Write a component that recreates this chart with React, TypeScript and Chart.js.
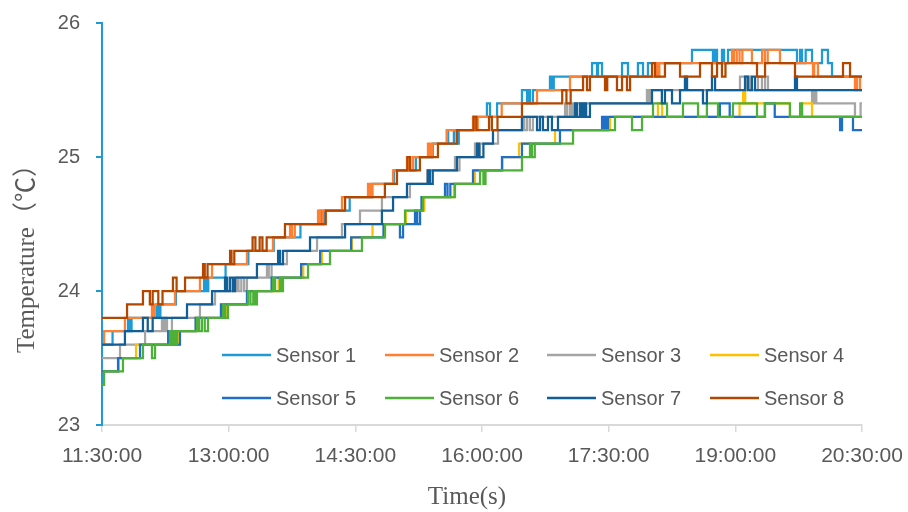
import React, { useEffect, useRef } from 'react';
import { Chart, registerables } from 'chart.js';

Chart.register(...registerables);

// X axis: minutes since 11:30:00, labelled every 90 minutes
const tickLabels = ['11:30:00', '13:00:00', '14:30:00', '16:00:00', '17:30:00', '19:00:00', '20:30:00'];
const tickStep = 90;
const endMinute = 540;
const yTickLabels = ['23', '24', '25', '26'];

const seriesNames = ['Sensor 1', 'Sensor 2', 'Sensor 3', 'Sensor 4', 'Sensor 5', 'Sensor 6', 'Sensor 7', 'Sensor 8'];
const seriesColors = ['#1E9BD7', '#FF8033', '#A5A5A5', '#FFC000', '#1F6FC6', '#4DB038', '#125E97', '#B34700'];

// Each series: minute at which the reading changes, and the new reading (°C)
const s1T = [0, 7.5, 18.5, 20, 21, 39, 40.5, 41.5, 52.5, 72.5, 74, 75.5, 87.8, 104, 122, 141, 155, 156.5, 158, 176, 192, 207.5, 223, 235, 245, 246, 250, 252, 253.5, 264, 273.5, 275.7, 280.7, 298.4, 302, 302.7, 304.1, 306.2, 318.3, 319.7, 321, 348.2, 351.7, 352.4, 355.3, 369.5, 373.7, 380.8, 384.4, 387.9, 419.2, 434.1, 435.6, 437, 440.5, 442, 444.8, 493.8, 496, 497.4, 500, 504.5, 511.6, 515.8, 518.7];
const s1V = [23.6, 23.7, 23.8, 23.7, 23.8, 23.9, 23.8, 23.9, 24.0, 24.1, 24.0, 24.1, 24.2, 24.3, 24.4, 24.5, 24.6, 24.5, 24.6, 24.7, 24.8, 24.9, 25.0, 25.1, 25.2, 25.1, 25.2, 25.1, 25.2, 25.3, 25.4, 25.3, 25.4, 25.5, 25.4, 25.5, 25.4, 25.5, 25.6, 25.5, 25.6, 25.7, 25.6, 25.7, 25.6, 25.7, 25.6, 25.7, 25.6, 25.7, 25.8, 25.7, 25.8, 25.7, 25.8, 25.7, 25.8, 25.7, 25.8, 25.7, 25.8, 25.7, 25.8, 25.7, 25.6];

const s2T = [0, 1.5, 16.3, 35.5, 36.5, 37.5, 51.9, 69.6, 78.2, 103, 121.5, 133.6, 135, 137, 153.5, 155, 157, 170.5, 189, 190.5, 192, 206.8, 216.7, 218, 221, 231.6, 233, 234.5, 245.1, 263.6, 265, 267, 284, 309.1, 332.5, 393, 394.5, 396, 447.6, 449, 451, 453, 455, 461.8, 469, 471, 473, 481.7, 505.2, 506, 508.7, 535, 536.5, 538.6];
const s2V = [23.6, 23.7, 23.8, 23.9, 23.8, 23.9, 24.0, 24.1, 24.2, 24.3, 24.4, 24.5, 24.4, 24.5, 24.6, 24.5, 24.6, 24.7, 24.8, 24.7, 24.8, 24.9, 25.0, 24.9, 25.0, 25.1, 25.0, 25.1, 25.2, 25.3, 25.2, 25.3, 25.4, 25.5, 25.6, 25.7, 25.6, 25.7, 25.8, 25.7, 25.8, 25.7, 25.8, 25.7, 25.8, 25.7, 25.8, 25.7, 25.6, 25.7, 25.6, 25.5, 25.6, 25.5];

const s3T = [0, 12.8, 30.6, 42.6, 44, 45, 46.2, 49.7, 69.6, 80.3, 95.9, 97, 99, 101, 103, 117.2, 118.5, 120.5, 131.4, 152.8, 170.5, 183.3, 198.9, 218.8, 231, 250.8, 252, 254, 265, 266.5, 268.6, 281.4, 298.4, 300, 302, 304, 306.2, 329, 330.5, 332.5, 333.9, 334.7, 387.2, 388.5, 390, 453.3, 456.9, 458, 460.4, 466.1, 468.9, 471.1, 473.2, 504.5, 506, 507.5, 535, 539];
const s3V = [23.5, 23.6, 23.7, 23.8, 23.7, 23.8, 23.7, 23.8, 23.9, 24.0, 24.1, 24.0, 24.1, 24.0, 24.1, 24.2, 24.1, 24.2, 24.3, 24.4, 24.5, 24.6, 24.7, 24.8, 24.9, 25.0, 24.9, 25.0, 25.1, 25.0, 25.1, 25.2, 25.3, 25.2, 25.3, 25.2, 25.3, 25.4, 25.3, 25.4, 25.3, 25.4, 25.5, 25.4, 25.5, 25.6, 25.5, 25.6, 25.5, 25.6, 25.5, 25.6, 25.5, 25.4, 25.5, 25.4, 25.3, 25.4];

const s4T = [0, 12, 24.2, 49.3, 50.5, 54.5, 66.8, 88.5, 104, 125.5, 143, 156.3, 177.6, 192.2, 216, 229, 250, 265, 284.5, 296.3, 321.9, 361, 395, 398, 453, 455.5, 457, 488.8, 497.4, 504.5];
const s4V = [23.4, 23.5, 23.6, 23.7, 23.6, 23.7, 23.8, 23.9, 24.0, 24.1, 24.2, 24.3, 24.4, 24.5, 24.6, 24.7, 24.8, 24.9, 25.0, 25.1, 25.2, 25.3, 25.4, 25.3, 25.4, 25.5, 25.4, 25.3, 25.4, 25.3];

const s5T = [0, 11.4, 27, 47, 49, 55.4, 66.5, 84.5, 103, 120.5, 141.5, 155, 177, 200, 211.7, 213.9, 222.4, 224, 226, 227, 243.7, 245.5, 247.5, 263.6, 284.2, 298.4, 325.4, 355.3, 356.5, 358, 359, 359.5, 439, 446, 471, 478, 524.4, 525.8, 533.6];
const s5V = [23.4, 23.5, 23.6, 23.7, 23.6, 23.7, 23.8, 23.9, 24.0, 24.1, 24.2, 24.3, 24.4, 24.5, 24.4, 24.5, 24.6, 24.5, 24.6, 24.7, 24.8, 24.7, 24.8, 24.9, 25.0, 25.1, 25.2, 25.3, 25.2, 25.3, 25.2, 25.3, 25.4, 25.3, 25.4, 25.3, 25.2, 25.3, 25.2];

const s6T = [0, 1.5, 14.9, 29.1, 35.5, 37.7, 48.3, 49.7, 51.2, 52.5, 53.3, 67.5, 69, 71, 73, 75.3, 86, 87.5, 89.5, 103.7, 105.5, 107.5, 109, 110.1, 121.5, 123, 126.5, 127.5, 128.6, 146.4, 162, 184.7, 201.1, 215.3, 228.1, 250.8, 268.6, 271, 272.5, 298.4, 304.1, 305.5, 307.5, 334.7, 364.5, 376.6, 383.7, 391.5, 401.5, 412.8, 423.5, 429.8, 437.7, 448.3, 465.4, 471.1, 488.8, 496, 497.4];
const s6V = [23.3, 23.4, 23.5, 23.6, 23.5, 23.6, 23.7, 23.6, 23.7, 23.6, 23.7, 23.8, 23.7, 23.8, 23.7, 23.8, 23.9, 23.8, 23.9, 24.0, 23.9, 24.0, 23.9, 24.0, 24.1, 24.0, 24.1, 24.0, 24.1, 24.2, 24.3, 24.4, 24.5, 24.6, 24.7, 24.8, 24.9, 24.8, 24.9, 25.0, 25.1, 25.0, 25.1, 25.2, 25.3, 25.2, 25.3, 25.4, 25.3, 25.4, 25.3, 25.4, 25.3, 25.4, 25.3, 25.4, 25.3, 25.4, 25.3];

const s7T = [0, 16.3, 29.1, 32.5, 36, 60.4, 78.2, 87.4, 89, 91, 93, 94.5, 110.1, 125.1, 126.5, 128.6, 147.8, 172.7, 198.9, 206.8, 216.7, 231.6, 233, 235, 252.2, 266.4, 268, 271, 277.8, 298.4, 309.1, 311.2, 313.3, 316.9, 319.7, 324, 336.1, 337.5, 339.6, 341, 342.5, 344, 346.7, 390.8, 397.8, 400, 405, 410.7, 414.2, 415.7, 427, 429.8, 433.4, 435.6, 456.9, 459, 461.8, 464, 492.4, 493.8];
const s7V = [23.6, 23.7, 23.8, 23.7, 23.8, 23.9, 24.0, 24.1, 24.0, 24.1, 24.0, 24.1, 24.2, 24.3, 24.2, 24.3, 24.4, 24.5, 24.6, 24.7, 24.8, 24.9, 24.8, 24.9, 25.0, 25.1, 25.0, 25.1, 25.2, 25.3, 25.2, 25.3, 25.2, 25.3, 25.2, 25.3, 25.4, 25.3, 25.4, 25.3, 25.4, 25.3, 25.4, 25.5, 25.4, 25.5, 25.4, 25.5, 25.6, 25.5, 25.4, 25.5, 25.6, 25.5, 25.6, 25.5, 25.6, 25.5, 25.6, 25.5];

const s8T = [0, 17.8, 29.1, 34, 36, 40, 43, 50.4, 53, 59, 71.8, 73, 75, 91, 92, 94, 107, 109, 112, 114, 117, 130, 159, 172.7, 201, 209.6, 217, 219, 225.9, 238.7, 252.2, 264, 266, 275, 277, 281, 298.4, 327, 330, 333, 341.8, 344.6, 346.7, 357.4, 359, 365.9, 369.5, 373, 375.2, 390.8, 392.9, 400, 410.7, 424.9, 433.4, 437, 440.5, 443, 465.4, 471.1, 492.4, 526.5, 531.5];
const s8V = [23.8, 23.9, 24.0, 23.9, 24.0, 23.9, 24.0, 24.1, 24.0, 24.1, 24.2, 24.1, 24.2, 24.3, 24.2, 24.3, 24.4, 24.3, 24.4, 24.3, 24.4, 24.5, 24.6, 24.7, 24.8, 24.9, 25.0, 24.9, 25.0, 25.1, 25.2, 25.3, 25.2, 25.3, 25.2, 25.3, 25.4, 25.5, 25.4, 25.5, 25.6, 25.5, 25.6, 25.5, 25.6, 25.5, 25.6, 25.5, 25.6, 25.7, 25.6, 25.7, 25.6, 25.7, 25.6, 25.7, 25.6, 25.7, 25.6, 25.7, 25.6, 25.7, 25.6];

const seriesTimes = [s1T, s2T, s3T, s4T, s5T, s6T, s7T, s8T];
const seriesValues = [s1V, s2V, s3V, s4V, s5V, s6V, s7V, s8V];

const textGray = '#595959';

const toPoints = (times: number[], values: number[]) => {
  const pts = times.map((t, i) => ({ x: t, y: values[i] }));
  pts.push({ x: endMinute, y: values[values.length - 1] });
  return pts;
};

const overlayPlugin = {
  id: 'overlay',
  afterDraw(chart: any) {
    const ctx = chart.ctx as CanvasRenderingContext2D;
    ctx.save();
    // legend (2 rows x 4 columns inside the plot)
    const cols = [222, 385, 547, 710];
    const rows = [355, 398];
    ctx.font = '20px "Liberation Sans", Arial, sans-serif';
    ctx.textBaseline = 'middle';
    ctx.textAlign = 'left';
    seriesNames.forEach((name, i) => {
      const x = cols[i % 4];
      const y = rows[Math.floor(i / 4)];
      ctx.strokeStyle = seriesColors[i];
      ctx.lineWidth = 2.5;
      ctx.beginPath();
      ctx.moveTo(x, y);
      ctx.lineTo(x + 49, y);
      ctx.stroke();
      ctx.fillStyle = textGray;
      ctx.fillText(name, x + 54, y + 1);
    });
    // axis titles
    ctx.fillStyle = textGray;
    ctx.font = '25px "Liberation Serif", "Times New Roman", "Noto Sans CJK SC", serif';
    ctx.textAlign = 'center';
    ctx.fillText('Time(s)', 467, 497);
    ctx.translate(27, 353);
    ctx.rotate(-Math.PI / 2);
    ctx.textAlign = 'left';
    ctx.fillText('Temperature（℃）', 0, 0);
    ctx.restore();
  },
};

export default function App() {
  const canvasRef = useRef<HTMLCanvasElement | null>(null);

  useEffect(() => {
    if (!canvasRef.current) return;
    const datasets = seriesNames.map((name, i) => ({
      label: name,
      data: toPoints(seriesTimes[i], seriesValues[i]),
      borderColor: seriesColors[i],
      backgroundColor: seriesColors[i],
      borderWidth: 2.25,
      pointRadius: 0,
      pointHoverRadius: 0,
      stepped: true,
      fill: false,
      order: seriesNames.length - i,
    }));

    const chart = new Chart(canvasRef.current, {
      type: 'line',
      data: { datasets },
      options: {
        animation: false,
        responsive: false,
        maintainAspectRatio: false,
        devicePixelRatio: 1,
        layout: { padding: { left: 0, top: 23, right: 46, bottom: 0 } },
        plugins: {
          legend: { display: false },
          tooltip: { enabled: false },
          title: { display: false },
        },
        scales: {
          x: {
            type: 'linear',
            min: 0,
            max: endMinute,
            afterFit: (scale: any) => {
              scale.height = 87;
              scale.paddingLeft = 0;
              scale.paddingRight = 0;
            },
            afterBuildTicks: (scale: any) => {
              scale.ticks = tickLabels.map((_, i) => ({ value: i * tickStep }));
            },
            ticks: {
              autoSkip: false,
              maxRotation: 0,
              minRotation: 0,
              color: textGray,
              padding: 12,
              font: { family: '"Liberation Sans", Arial, sans-serif', size: 21 },
              callback: (v: any) => tickLabels[Math.round(Number(v) / tickStep)] ?? '',
            },
            grid: { drawOnChartArea: false, drawTicks: true, tickLength: 7, color: '#D9D9D9', lineWidth: 1.5 },
            border: { display: true, color: '#D9D9D9', width: 2 },
          },
          y: {
            type: 'linear',
            min: 23,
            max: 26,
            afterFit: (scale: any) => {
              scale.width = 102;
              scale.paddingTop = 0;
              scale.paddingBottom = 0;
            },
            afterBuildTicks: (scale: any) => {
              scale.ticks = yTickLabels.map((l) => ({ value: Number(l) }));
            },
            ticks: {
              color: textGray,
              padding: 16,
              font: { family: '"Liberation Sans", Arial, sans-serif', size: 20 },
              callback: (v: any) => String(v),
            },
            grid: { drawOnChartArea: false, drawTicks: true, tickLength: 6, color: '#1E9BD7', lineWidth: 2 },
            border: { display: true, color: '#1E9BD7', width: 2 },
          },
        },
      },
      plugins: [overlayPlugin],
    });
    return () => chart.destroy();
  }, []);

  return (
    <div style={{ position: 'fixed', left: 0, top: 0, width: 908, height: 512, background: '#fff' }}>
      <canvas ref={canvasRef} width={908} height={512} style={{ width: 908, height: 512, display: 'block' }} />
    </div>
  );
}
